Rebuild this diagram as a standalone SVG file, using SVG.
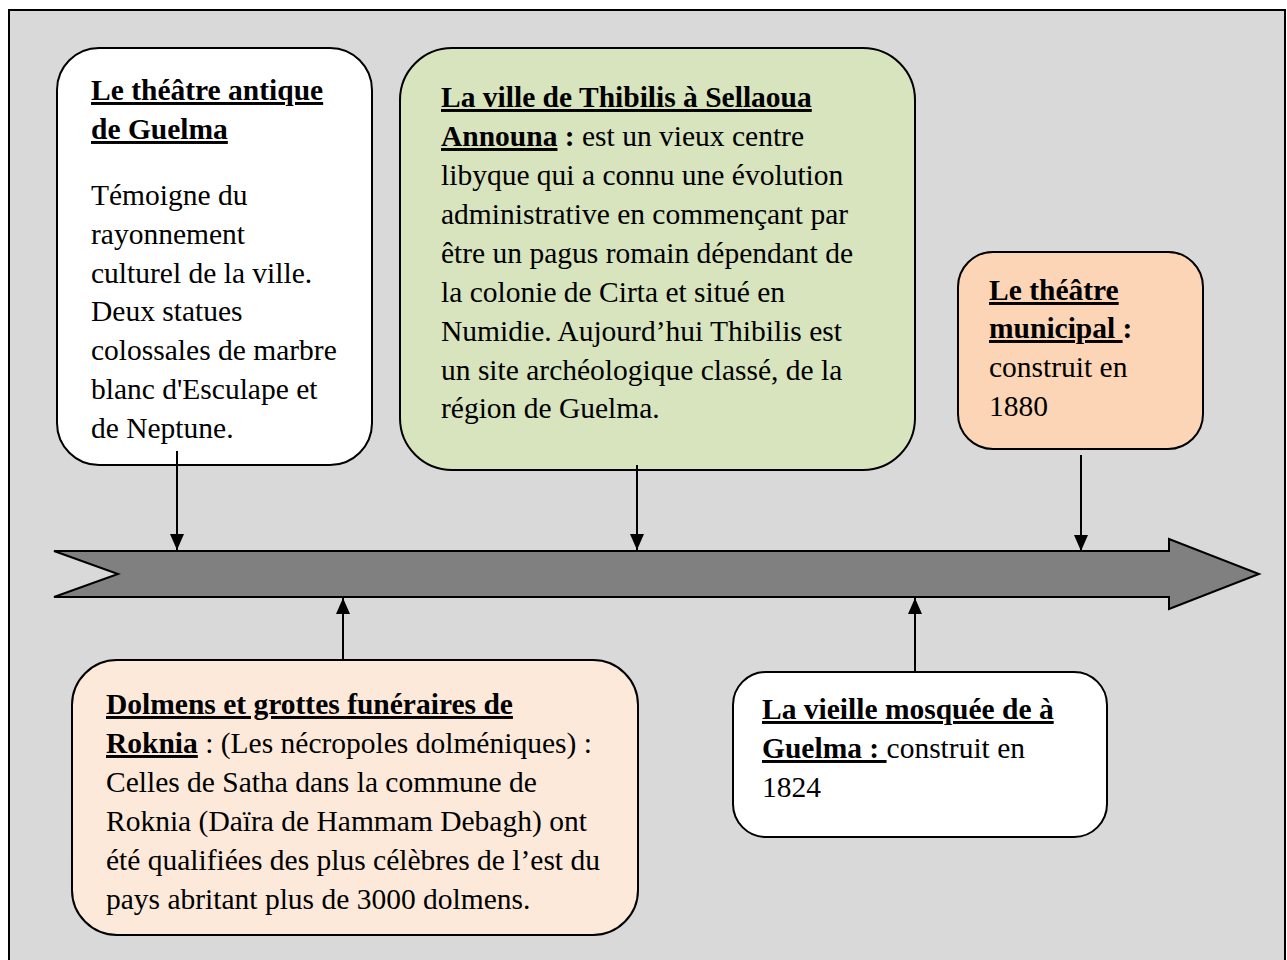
<svg xmlns="http://www.w3.org/2000/svg" width="1287" height="960" viewBox="0 0 1287 960">
  <style>
    .box { stroke: #000; stroke-width: 2; }
    .t { font-family: "Liberation Serif", "Times New Roman", serif; font-size: 29.5px; fill: #000; }
    .h { font-weight: bold; text-decoration: underline; text-decoration-thickness: 3px; text-underline-offset: 3px; }
    .b { font-weight: bold; }
    .conn { stroke: #000; stroke-width: 2; fill: none; marker-end: url(#ah); }
  </style>
  <defs>
    <marker id="ah" viewBox="0 0 16 14" refX="16" refY="7" markerWidth="16" markerHeight="14" markerUnits="userSpaceOnUse" orient="auto">
      <path d="M0,0 L16,7 L0,14 Z" fill="#000"/>
    </marker>
  </defs>

  <rect id="frame" x="9" y="10" width="1276" height="980" fill="#d9d9d9" stroke="#000" stroke-width="2"/>

  <g id="timeline">
    <polygon points="54,551 1169,551 1169,539 1259,574 1169,609 1169,597 54,597 118,574" fill="#808080" stroke="#000" stroke-width="2"/>
  </g>

  <g id="node-theatre-antique">
    <rect class="box" x="57" y="48" width="315" height="417" rx="42" fill="#ffffff"/>
    <text class="t" x="91" y="100"><tspan class="h">Le théâtre antique</tspan></text>
    <text class="t" x="91" y="139"><tspan class="h">de Guelma</tspan></text>
    <text class="t" x="91" y="205">Témoigne du</text>
    <text class="t" x="91" y="244">rayonnement</text>
    <text class="t" x="91" y="283">culturel de la ville.</text>
    <text class="t" x="91" y="321">Deux statues</text>
    <text class="t" x="91" y="360">colossales de marbre</text>
    <text class="t" x="91" y="399">blanc d'Esculape et</text>
    <text class="t" x="91" y="438">de Neptune.</text>
  </g>

  <g id="node-thibilis">
    <rect class="box" x="400" y="48" width="515" height="422" rx="52" fill="#d7e4bd"/>
    <text class="t" x="441" y="107"><tspan class="h">La ville de Thibilis à Sellaoua</tspan></text>
    <text class="t" x="441" y="146"><tspan class="h">Announa</tspan><tspan class="b"> :</tspan> est un vieux centre</text>
    <text class="t" x="441" y="185">libyque qui a connu une évolution</text>
    <text class="t" x="441" y="224">administrative en commençant par</text>
    <text class="t" x="441" y="263">être un pagus romain dépendant de</text>
    <text class="t" x="441" y="302">la colonie de Cirta et situé en</text>
    <text class="t" x="441" y="341">Numidie. Aujourd’hui Thibilis est</text>
    <text class="t" x="441" y="380">un site archéologique classé, de la</text>
    <text class="t" x="441" y="418">région de Guelma.</text>
  </g>

  <g id="node-theatre-municipal">
    <rect class="box" x="958" y="252" width="245" height="197" rx="35" fill="#fbd5b5"/>
    <text class="t" x="989" y="300"><tspan class="h">Le théâtre</tspan></text>
    <text class="t" x="989" y="338"><tspan class="h">municipal </tspan><tspan class="b">:</tspan></text>
    <text class="t" x="989" y="377">construit en</text>
    <text class="t" x="989" y="416">1880</text>
  </g>

  <g id="node-dolmens">
    <rect class="box" x="72" y="660" width="566" height="275" rx="45" fill="#fde9d9"/>
    <text class="t" x="106" y="714"><tspan class="h">Dolmens et grottes funéraires de</tspan></text>
    <text class="t" x="106" y="753"><tspan class="h">Roknia</tspan> : (Les nécropoles dolméniques) :</text>
    <text class="t" x="106" y="792">Celles de Satha dans la commune de</text>
    <text class="t" x="106" y="831">Roknia (Daïra de Hammam Debagh) ont</text>
    <text class="t" x="106" y="870">été qualifiées des plus célèbres de l’est du</text>
    <text class="t" x="106" y="909">pays abritant plus de 3000 dolmens.</text>
  </g>

  <g id="node-mosquee">
    <rect class="box" x="733" y="672" width="374" height="165" rx="33" fill="#ffffff"/>
    <text class="t" x="762" y="719"><tspan class="h">La vieille mosquée de à</tspan></text>
    <text class="t" x="762" y="758"><tspan class="h">Guelma : </tspan>construit en</text>
    <text class="t" x="762" y="797">1824</text>
  </g>

  <g id="connectors">
    <line class="conn" x1="177" y1="451" x2="177" y2="550"/>
    <line class="conn" x1="637" y1="465" x2="637" y2="550"/>
    <line class="conn" x1="1081" y1="455" x2="1081" y2="551"/>
    <line class="conn" x1="343" y1="660" x2="343" y2="598"/>
    <line class="conn" x1="915" y1="672" x2="915" y2="598"/>
  </g>
</svg>
